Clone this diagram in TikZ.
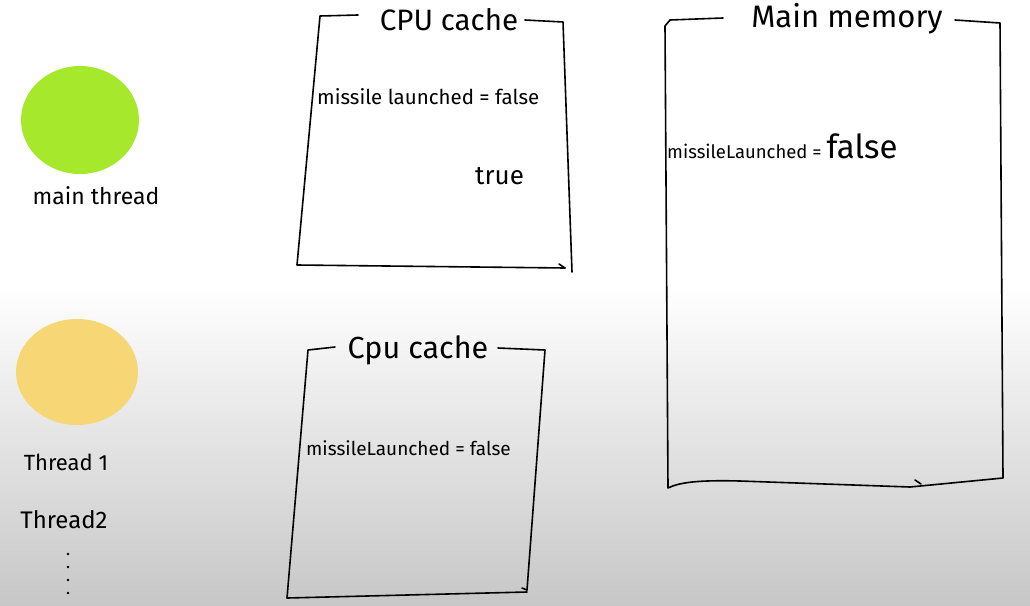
\documentclass[tikz,border=0pt]{standalone}
\usepackage{fontspec}
\setmainfont{Fira Sans}
\usetikzlibrary{shapes.geometric}
\definecolor{threadgreen}{HTML}{A6E82C}
\definecolor{threadyellow}{HTML}{F7D675}
\begin{document}
\begin{tikzpicture}[x=1pt,y=-1pt,
  pen/.style={line width=1.6pt, line cap=round, line join=round, black},
  hand/.style={inner sep=0pt, anchor=west, text=black},
  blob/.style={ellipse, draw=none, inner sep=0pt}]
\useasboundingbox (0,0) rectangle (1030,605);
\fill[white] (0,0) rectangle (1030,605);
\shade[top color=white, bottom color=black!22] (0,285) rectangle (1030,605);

% threads
\node[blob, fill=threadgreen, minimum width=118pt, minimum height=108pt] (mainblob) at (80,120) {};
\node[hand, anchor=center, font=\fontsize{23}{24}\selectfont] (mainlbl) at (96,196) {main thread};
\node[blob, fill=threadyellow, minimum width=122pt, minimum height=106pt] (t1blob) at (77,372) {};
\node[hand, anchor=center, font=\fontsize{22}{24}\selectfont] (t1lbl) at (66,462) {Thread 1};
\node[hand, anchor=center, font=\fontsize{24}{26}\selectfont] (t2lbl) at (64,520) {Thread2};
\foreach \yy [count=\i] in {554,567,580,593} \fill (68,\yy) circle (1.4pt) coordinate (dot\i);

% CPU cache 1
\draw[pen] (358,15) -- (320,16) -- (297,265) -- (565,268);
\draw[pen] (559,264) -- (565,268);
\draw[pen] (525,20) -- (563,22) -- (572,272);
\node[hand, anchor=center, font=\fontsize{29.5}{31}\selectfont] (c1title) at (449,20) {CPU cache};
\node[hand, font=\fontsize{20.5}{22}\selectfont] (c1var) at (317,97) {missile launched = false};
\node[hand, font=\fontsize{26}{28}\selectfont] (c1true) at (475,176) {true};

% CPU cache 2
\draw[pen] (335,347) -- (308,350) -- (287,598) -- (527,592);
\draw[pen] (498,348) -- (545,350) -- (527,590);
\draw[pen] (522,588) -- (527,590);
\node[hand, anchor=center, font=\fontsize{30.5}{32}\selectfont] (c2title) at (418,350) {Cpu cache};
\node[hand, font=\fontsize{19}{21}\selectfont] (c2var) at (306,448) {missileLaunched = false};

% Main memory
\draw[pen] (723,18) -- (670,20) -- (665,26) -- (668,488) .. controls (680,482) and (700,480) .. (740,481) -- (910,487) -- (1003,478) -- (1000,23) -- (955,20);
\draw[pen] (915,480) -- (921,484);
\node[hand, anchor=center, font=\fontsize{31}{33}\selectfont] (mmtitle) at (847,19) {Main memory};
\node[hand, font=\fontsize{18.5}{20}\selectfont] (mmvar) at (667,146) {missileLaunched = \fontsize{33}{34}\selectfont false};
\end{tikzpicture}
\end{document}
